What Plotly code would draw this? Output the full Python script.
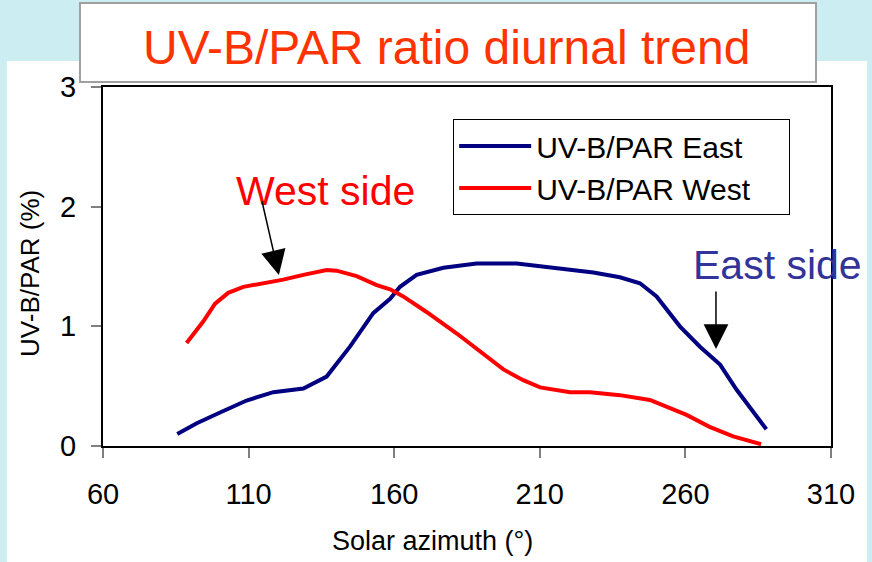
import plotly.graph_objects as go

# valeurs
east_azimuth = [85.5, 92.2, 100.2, 109.3, 118.5, 128.8, 136.8, 144.8, 152.8, 158.6, 162.0, 167.7,
                176.9, 188.3, 202.1, 215.8, 228.4, 237.5, 244.4, 250.1, 254.7, 258.1, 265.0,
                271.9, 277.6, 283.3, 287.8]
east_ratio = [0.10, 0.19, 0.28, 0.38, 0.45, 0.48, 0.58, 0.83, 1.11, 1.23, 1.33, 1.43,
              1.49, 1.525, 1.525, 1.485, 1.45, 1.41, 1.36, 1.25, 1.11, 1.00, 0.83,
              0.68, 0.47, 0.29, 0.14]

west_azimuth = [88.7, 94.4, 98.5, 103.0, 108.2, 115.0, 121.9, 128.8, 136.8, 140.2, 147.1, 154.0,
                158.6, 163.1, 171.1, 181.5, 189.5, 197.5, 204.3, 210.1, 220.4, 227.2, 237.5,
                247.8, 260.4, 268.3, 276.4, 286.0]
west_ratio = [0.86, 1.04, 1.19, 1.28, 1.33, 1.36, 1.39, 1.43, 1.47, 1.465, 1.42, 1.345,
              1.31, 1.25, 1.12, 0.94, 0.79, 0.64, 0.55, 0.49, 0.45, 0.45, 0.425,
              0.385, 0.26, 0.16, 0.08, 0.015]

x_ticks = [60, 110, 160, 210, 260, 310]
y_ticks = [0, 1, 2, 3]

pad = '\u00a0' * 4  # espace à droite dans la légende

fig = go.Figure()

fig.add_trace(go.Scatter(
    x=east_azimuth, y=east_ratio, mode='lines', name='UV-B/PAR East' + pad,
    line=dict(color='#000080', width=4),
))
fig.add_trace(go.Scatter(
    x=west_azimuth, y=west_ratio, mode='lines', name='UV-B/PAR West' + pad,
    line=dict(color='#FF0000', width=4),
))

axis_font = dict(family='Liberation Sans, Arial, sans-serif', size=29, color='black')

fig.update_xaxes(
    range=[60, 310], tickvals=x_ticks, ticks='outside', ticklen=10, tickcolor='#808080',
    tickwidth=1.5, showline=True, linecolor='black', linewidth=2, mirror=True,
    showgrid=False, zeroline=False, tickfont=axis_font, ticklabelstandoff=11,
)
fig.update_yaxes(
    range=[0, 3], tickvals=y_ticks, ticks='outside', ticklen=10, tickcolor='#808080',
    tickwidth=1.5, showline=True, linecolor='black', linewidth=2, mirror=True,
    showgrid=False, zeroline=False, tickfont=axis_font, ticklabelstandoff=9,
)

# fond cyan, panneau blanc et cadre du titre
fig.add_shape(type='rect', xref='paper', yref='paper', x0=-0.132, x1=1.0495, y0=-0.4, y1=1.0724,
              fillcolor='white', line=dict(width=0), layer='below')
fig.add_shape(type='rect', xref='paper', yref='paper', x0=-0.0316, x1=0.9794, y0=1.0139, y1=1.234,
              fillcolor='white', line=dict(color='#A0A0A0', width=2), layer='below')

fig.add_annotation(text='UV-B/PAR ratio diurnal trend', xref='paper', yref='paper', x=0.4725, y=1.111,
                   showarrow=False, xanchor='center', yanchor='middle',
                   font=dict(family='Liberation Sans, Arial', size=48, color='#FF3300'))

# titres des axes (décalés comme sur l'original)
fig.add_annotation(text='Solar azimuth (°)', xref='paper', yref='paper', x=0.453, y=-0.265,
                   showarrow=False, xanchor='center', yanchor='middle',
                   font=dict(family='Liberation Sans, Arial', size=27, color='black'))
fig.add_annotation(text='UV-B/PAR (%)', xref='paper', yref='paper', x=-0.1003, y=0.482,
                   showarrow=False, xanchor='center', yanchor='middle', textangle=-90,
                   font=dict(family='Liberation Sans, Arial', size=26, color='black'))

fig.add_annotation(text='West side', x=136.4, y=2.13, showarrow=False,
                   font=dict(family='Liberation Sans, Arial', size=41, color='#FF0000'))
fig.add_annotation(text='East side', x=291.5, y=1.51, showarrow=False,
                   font=dict(family='Liberation Sans, Arial', size=41, color='#333399'))

# flèches
fig.add_annotation(text='', x=120.4, y=1.429, ax=114.5, ay=2.056, axref='x', ayref='y',
                   showarrow=True, arrowhead=2, arrowsize=3.3, arrowwidth=1.5, arrowcolor='black',
                   standoff=0)
fig.add_annotation(text='', x=270.5, y=0.811, ax=270.5, ay=1.304, axref='x', ayref='y',
                   showarrow=True, arrowhead=2, arrowsize=3.3, arrowwidth=1.5, arrowcolor='black',
                   standoff=0)

fig.update_layout(
    width=872, height=562,
    paper_bgcolor='#CCEEF2', plot_bgcolor='white',
    margin=dict(l=103, r=41, t=87, b=116),
    showlegend=True,
    legend=dict(x=0.481, y=0.911, xanchor='left', yanchor='top', bgcolor='white',
                bordercolor='black', borderwidth=1, itemwidth=72,
                font=dict(family='Liberation Sans, Arial', size=30, color='black')),
)

fig.write_html("out.html", config={'displayModeBar': False},
               post_script="document.body.style.margin='0px';")
